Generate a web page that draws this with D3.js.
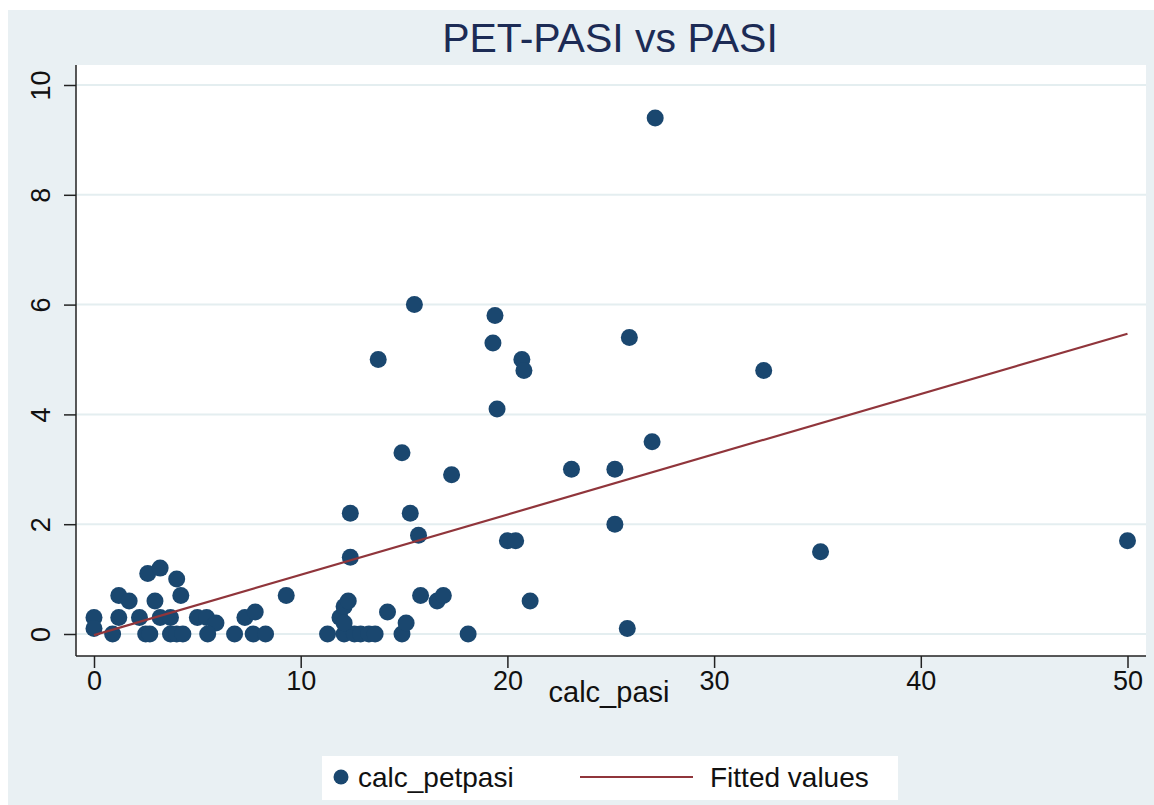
<!DOCTYPE html>
<html>
<head>
<meta charset="utf-8">
<script src="https://cdn.jsdelivr.net/npm/d3@7"></script>
<style>
  body { margin: 0; background: #fff; }
  text { font-family: "Liberation Sans", Arial, Helvetica, sans-serif; }
</style>
</head>
<body>
<svg id="chart" width="1154" height="805"></svg>
<script>
// calc_pasi / calc_petpasi pairs
var pasi = [0, 0, 0.9, 1.2, 1.2, 1.7, 2.2, 2.5, 2.7, 2.6, 3.2, 2.95, 3.2, 3.7, 3.7, 4.0, 4.3, 4.0, 4.2,
    5.0, 5.45, 5.9, 5.5, 6.8, 7.3, 7.8, 7.7, 8.3, 9.3,
    11.3, 12.1, 12.6, 12.9, 13.3, 13.6, 11.9, 12.1, 12.1, 12.3, 12.4, 12.4, 13.75, 14.2, 14.9, 15.1,
    14.9, 15.3, 15.5, 15.7, 15.8, 16.6, 16.9, 17.3, 18.1, 19.3, 19.4, 19.5, 20.0, 20.4, 20.7, 20.8,
    21.1, 23.1, 25.2, 25.2, 25.8, 25.9, 27.0, 27.15, 32.4, 35.15, 50.0];
var petpasi = [0.3, 0.1, 0, 0.3, 0.7, 0.6, 0.3, 0, 0, 1.1, 1.2, 0.6, 0.3, 0.3, 0, 0, 0, 1.0, 0.7,
    0.3, 0.3, 0.2, 0, 0, 0.3, 0.4, 0, 0, 0.7,
    0, 0, 0, 0, 0, 0, 0.3, 0.2, 0.5, 0.6, 2.2, 1.4, 5.0, 0.4, 0, 0.2,
    3.3, 2.2, 6.0, 1.8, 0.7, 0.6, 0.7, 2.9, 0, 5.3, 5.8, 4.1, 1.7, 1.7, 5.0, 4.8,
    0.6, 3.0, 3.0, 2.0, 0.1, 5.4, 3.5, 9.4, 4.8, 1.5, 1.7];

// fitted line end points
var fitX = [0, 50];
var fitY = [-0.02, 5.47];

var xTicks = [0, 10, 20, 30, 40, 50];
var yTicks = [0, 2, 4, 6, 8, 10];

var svg = d3.select("#chart");

var plotL = 76, plotR = 1146, plotT = 65, plotB = 656;
var navy = "#1a476f", maroon = "#90353b", bg = "#e9f0f3", grid = "#e4eef0";

var x = d3.scaleLinear().domain([0, 50]).range([94, 1127.5]);
var y = d3.scaleLinear().domain([0, 10]).range([634, 85]);

// outer background
svg.append("rect")
    .attr("x", 8).attr("y", 10)
    .attr("width", 1146).attr("height", 795)
    .attr("fill", bg);

// plot region
svg.append("rect")
    .attr("x", plotL).attr("y", plotT)
    .attr("width", plotR - plotL).attr("height", plotB - plotT)
    .attr("fill", "#fff");

// horizontal grid lines
svg.append("g").selectAll("line")
    .data(yTicks)
    .join("line")
    .attr("x1", plotL).attr("x2", plotR)
    .attr("y1", d => y(d)).attr("y2", d => y(d))
    .attr("stroke", grid)
    .attr("stroke-width", 2);

// y axis
var yAxis = svg.append("g")
    .attr("transform", "translate(" + plotL + ",0)")
    .call(d3.axisLeft(y).tickValues(yTicks).tickSize(12).tickPadding(14).tickSizeOuter(0));
yAxis.select(".domain").remove();
yAxis.selectAll(".tick line").attr("stroke", "#222").attr("stroke-width", 1.5);
yAxis.selectAll(".tick text")
    .attr("x", 0).attr("dy", 0)
    .attr("transform", "translate(-35,0) rotate(-90)")
    .attr("text-anchor", "middle")
    .attr("dominant-baseline", "central")
    .style("font-size", "27px")
    .attr("fill", "#111");

// x axis
var xAxis = svg.append("g")
    .attr("transform", "translate(0," + plotB + ")")
    .call(d3.axisBottom(x).tickValues(xTicks).tickSize(12).tickPadding(3).tickSizeOuter(0));
xAxis.select(".domain").remove();
xAxis.selectAll(".tick line").attr("stroke", "#222").attr("stroke-width", 1.5);
xAxis.selectAll(".tick text")
    .style("font-size", "27px")
    .attr("fill", "#111");

// axis lines
svg.append("line")
    .attr("x1", plotL).attr("x2", plotL).attr("y1", plotT).attr("y2", plotB)
    .attr("stroke", "#222").attr("stroke-width", 1.5);
svg.append("line")
    .attr("x1", plotL).attr("x2", plotR).attr("y1", plotB).attr("y2", plotB)
    .attr("stroke", "#222").attr("stroke-width", 1.5);

// axis title
svg.append("text")
    .attr("x", 609).attr("y", 702)
    .attr("text-anchor", "middle")
    .style("font-size", "29px")
    .attr("fill", "#111")
    .text("calc_pasi");

// points
svg.append("g").selectAll("circle")
    .data(pasi.map((d, i) => [d, petpasi[i]]))
    .join("circle")
    .attr("cx", d => x(d[0]))
    .attr("cy", d => y(d[1]))
    .attr("r", 8.5)
    .attr("fill", navy);

// fitted values
var fit = fitX.map((d, i) => [d, fitY[i]]);
svg.append("path")
    .datum(fit)
    .attr("d", d3.line().x(d => x(d[0])).y(d => y(d[1])))
    .attr("fill", "none")
    .attr("stroke", maroon)
    .attr("stroke-width", 2.2);

// title
svg.append("text")
    .attr("x", 610).attr("y", 52)
    .attr("text-anchor", "middle")
    .style("font-size", "41px")
    .attr("fill", "#1c2b55")
    .text("PET-PASI vs PASI");

// legend
var lg = svg.append("g");
lg.append("rect")
    .attr("x", 322).attr("y", 756)
    .attr("width", 576).attr("height", 44)
    .attr("fill", "#fff");
lg.append("circle")
    .attr("cx", 341).attr("cy", 777).attr("r", 7.5)
    .attr("fill", navy);
lg.append("text")
    .attr("x", 358).attr("y", 787)
    .style("font-size", "28px")
    .attr("fill", "#111")
    .text("calc_petpasi");
lg.append("line")
    .attr("x1", 580).attr("x2", 693).attr("y1", 777).attr("y2", 777)
    .attr("stroke", maroon).attr("stroke-width", 2.2);
lg.append("text")
    .attr("x", 710).attr("y", 787)
    .style("font-size", "28px")
    .attr("fill", "#111")
    .text("Fitted values");
</script>
</body>
</html>
